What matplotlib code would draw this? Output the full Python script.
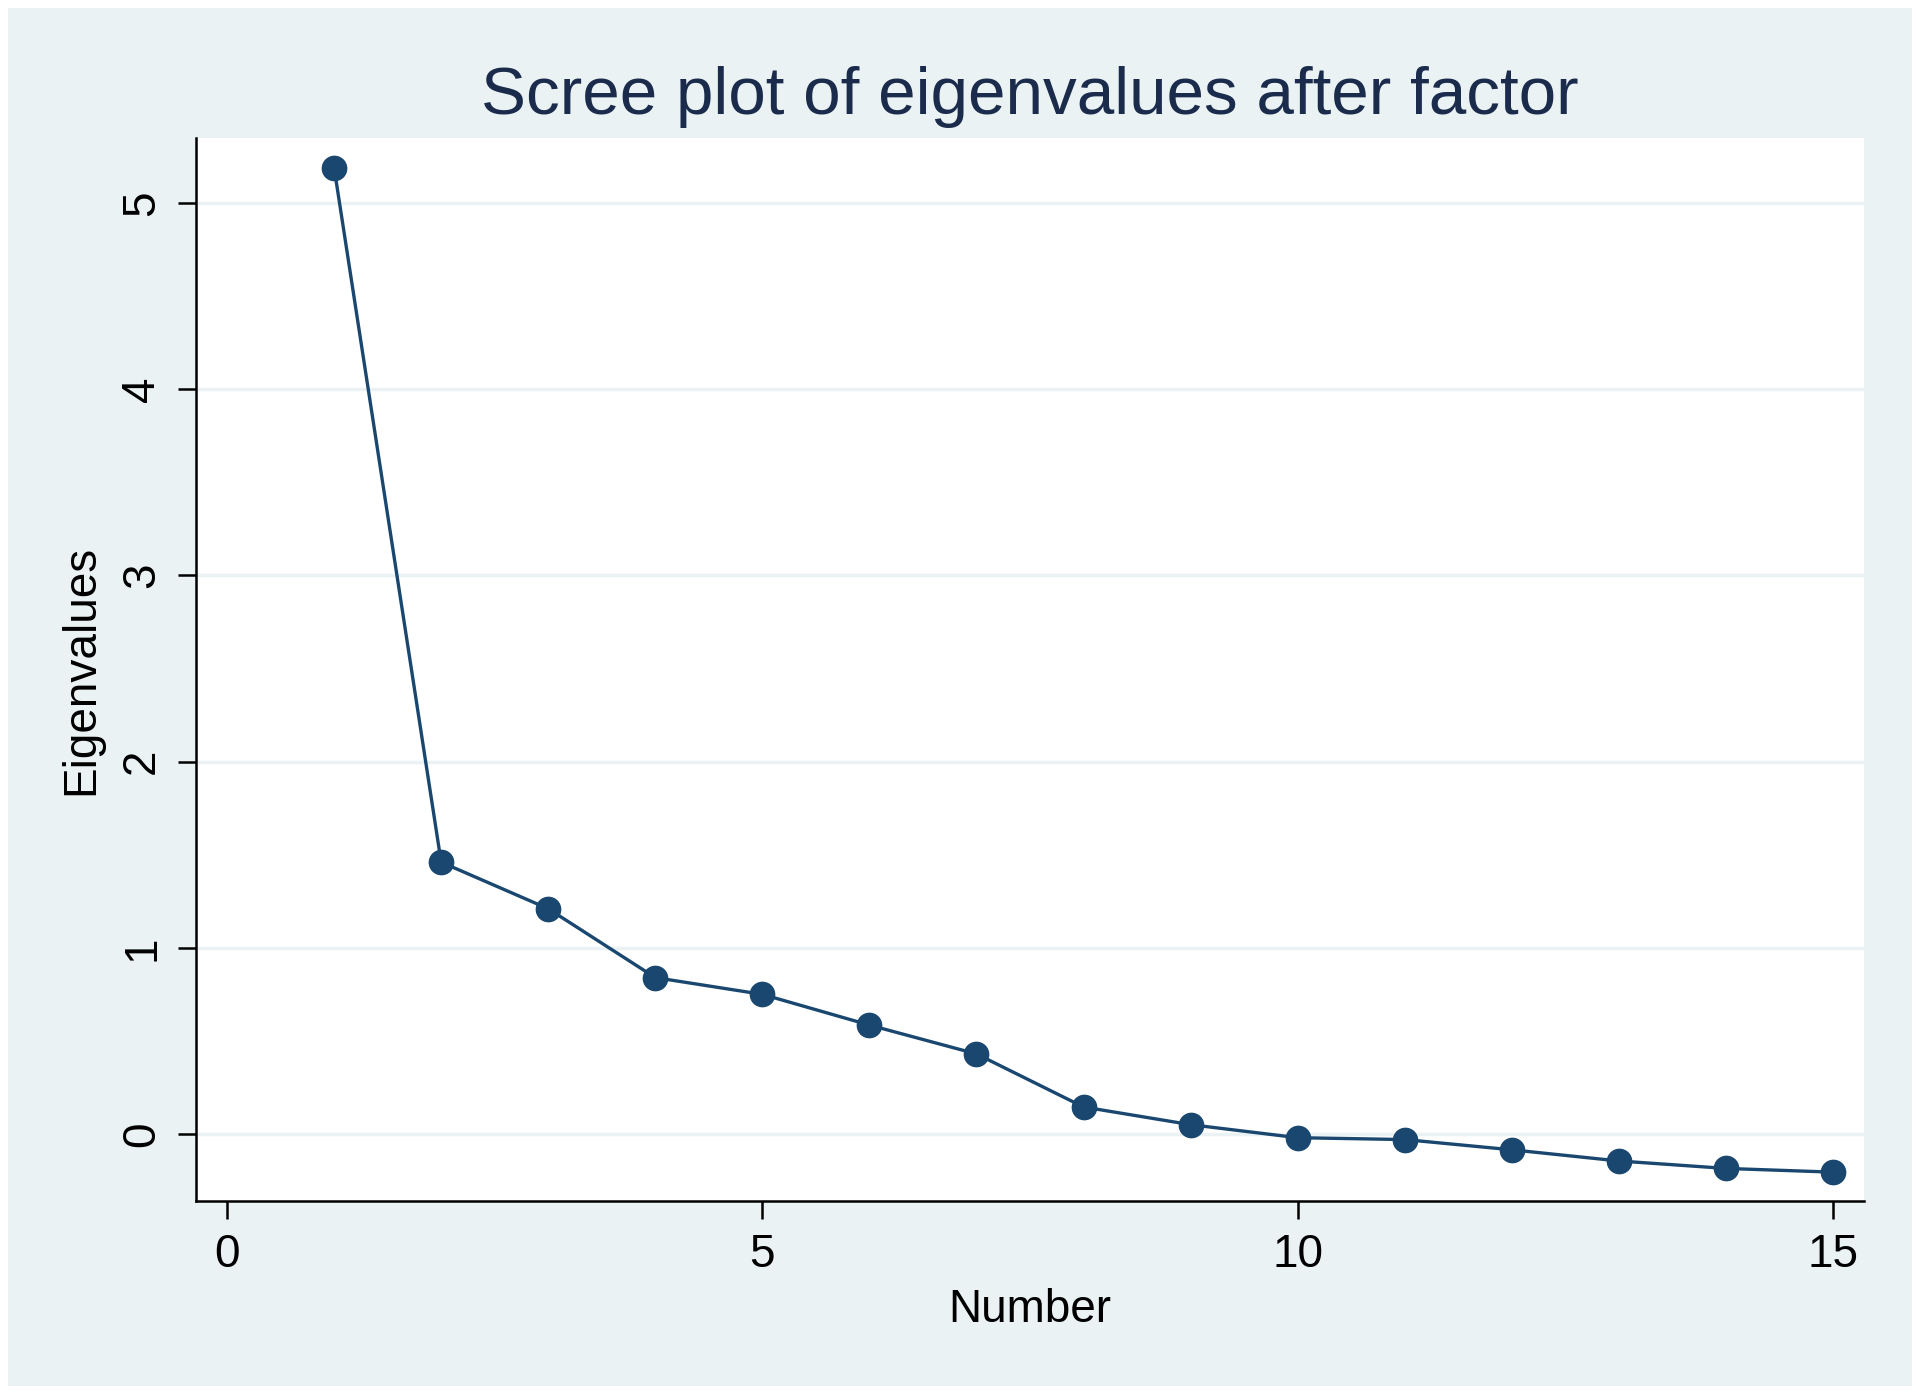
import matplotlib
matplotlib.use("Agg")
import matplotlib.pyplot as plt
from matplotlib.patches import Rectangle

# === Data ===
number = [1, 2, 3, 4, 5, 6, 7, 8, 9, 10, 11, 12, 13, 14, 15]
eigenvalues = [5.19, 1.46, 1.21, 0.84, 0.75, 0.585, 0.43, 0.145, 0.05,
               -0.02, -0.03, -0.085, -0.145, -0.185, -0.205]
x_ticks = [0, 5, 10, 15]
y_ticks = [0, 1, 2, 3, 4, 5]

navy = '#1a476f'
bg = '#eaf2f3'

plt.rcParams['font.family'] = ['Liberation Sans', 'DejaVu Sans']

fig = plt.figure(figsize=(19.2, 13.94), dpi=100, facecolor='white')
# light Stata-style outer region with thin white margin
fig.patches.append(Rectangle((8 / 1920, 8 / 1394), 1 - 16 / 1920, 1 - 16 / 1394,
                             transform=fig.transFigure, facecolor=bg,
                             edgecolor='none', zorder=-10))

ax = fig.add_axes([196 / 1920, 193 / 1394, 1668 / 1920, 1063 / 1394])
ax.set_zorder(1)
ax.set_facecolor('white')

ax.plot(number, eigenvalues, color=navy, linewidth=2.4, marker='o',
        markersize=17.5, markerfacecolor=navy, markeredgecolor=navy, zorder=3)

ax.set_xlim(-0.29, 15.29)
ax.set_ylim(-0.36, 5.35)
ax.set_xticks(x_ticks)
ax.set_yticks(y_ticks)
ax.grid(axis='y', color=bg, linewidth=2.5)
ax.set_axisbelow(True)

for side in ['top', 'right']:
    ax.spines[side].set_visible(False)
for side in ['left', 'bottom']:
    ax.spines[side].set_linewidth(1.8)
    ax.spines[side].set_color('black')

ax.tick_params(axis='both', direction='out', length=13, width=1.8,
               labelsize=33, pad=10)
for lab in ax.get_yticklabels():
    lab.set_rotation(90)
    lab.set_va('center')

ax.set_xlabel('Number', fontsize=33, labelpad=8)
ax.set_ylabel('Eigenvalues', fontsize=33, labelpad=12)
ax.set_title('Scree plot of eigenvalues after factor', fontsize=48.5,
             color='#1a2b4c', pad=17)

fig.savefig('out.png', dpi=100, facecolor='white')
